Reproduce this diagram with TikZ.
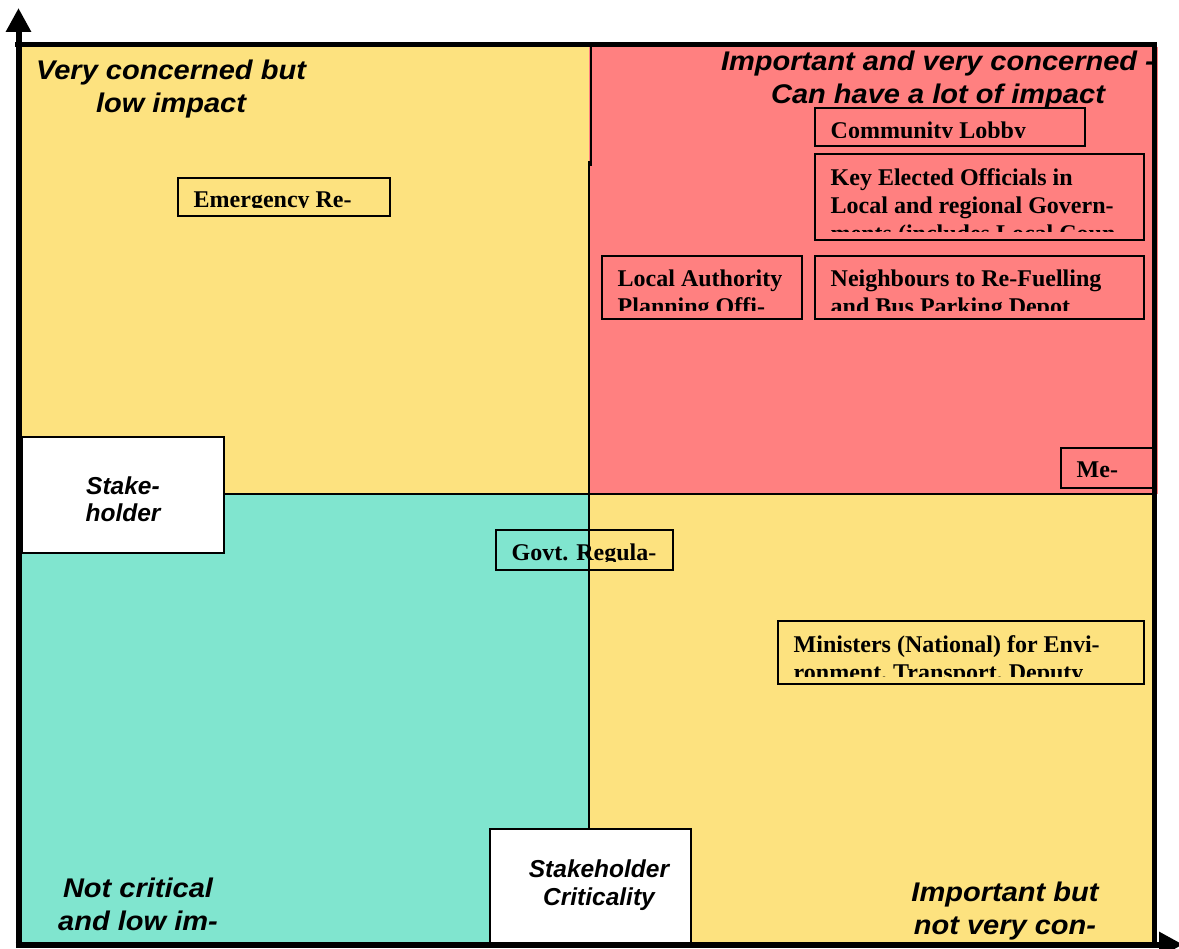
\documentclass[tikz,border=0pt]{standalone}
\usepackage{fontspec}
\setmainfont{Liberation Serif}
\setsansfont{Liberation Sans}
\newfontfamily\qtitlefont[FakeStretch=1.075]{Liberation Sans}
\usetikzlibrary{arrows.meta}
\definecolor{qyellow}{RGB}{253,226,127}
\definecolor{qred}{RGB}{255,128,128}
\definecolor{qteal}{RGB}{128,229,207}

\newcommand\qentry[6]{%
  \node[entrybox, minimum width=#4pt, minimum height=#5pt] (#1) at (#2,#3) {};
  \begin{scope}
    \clip ([xshift=1pt,yshift=-1pt]#1.north west) rectangle ([xshift=-1pt,yshift=8pt]#1.south east);
    \node[entrytext] (#1-text) at ([xshift=15.5pt,yshift=-14pt]#1.north west) {#6};
  \end{scope}}

\begin{document}
\begin{tikzpicture}[x=1pt,y=-1pt,
  qtitle/.style={font=\qtitlefont\bfseries\itshape\fontsize{27}{33}\selectfont, align=center, inner sep=0pt, anchor=north},
  entrybox/.style={draw=black, line width=2pt, anchor=north west, inner sep=0pt, outer sep=0pt},
  entrytext/.style={font=\bfseries\fontsize{24}{28}\selectfont, align=left, inner sep=0pt, anchor=north west},
  whitebox/.style={draw=black, fill=white, line width=2pt, inner sep=0pt, outer sep=0pt, anchor=north west},
  whitetext/.style={font=\sffamily\bfseries\itshape\fontsize{24.5}{27.5}\selectfont, align=center, inner sep=0pt},
  axisline/.style={line width=6pt, -{Triangle[length=24pt,width=24pt]}},
  divider/.style={line width=2pt}]
\useasboundingbox (0,0) rectangle (1179,949);

% quadrants
\fill[qyellow] (21,47) rectangle (589,494.5);
\fill[qred] (589,47) rectangle (1157.5,494.5);
\fill[qteal] (21,494.5) rectangle (589,942);
\fill[qyellow] (589,494.5) rectangle (1155,942);

% dividers
\draw[divider] (590.5,47) -- (590.5,166);
\draw[divider] (588.5,161) -- (588.5,830);
\draw[divider] (224,494.5) -- (1155,494.5);

% stakeholder entries
\qentry{emerg}{178}{178}{212}{38}{Emergency Re-}
\qentry{lobby}{815}{108}{270}{38}{Community Lobby}
\qentry{keyoff}{815}{154}{329}{86}{Key Elected Officials in\\Local and regional Govern-\\ments (includes Local Coun}
\qentry{locauth}{602}{256}{200}{63}{Local Authority\\Planning Offi-}
\qentry{neigh}{815}{256}{329}{63}{Neighbours to Re-Fuelling\\and Bus Parking Depot}
\qentry{media}{1061}{448}{92}{40}{Me-}
\qentry{govt}{496}{530}{177}{40}{Govt. Regula-}
\qentry{minist}{778}{621}{366}{63}{Ministers (National) for Envi-\\ronment, Transport, Deputy}

% quadrant titles
\node[qtitle] (tl-title) at (171,59.5) {Very concerned but\\low impact};
\node[qtitle] (tr-title) at (938,50.5) {Important and very concerned -\\Can have a lot of impact};
\node[qtitle] (bl-title) at (138,878) {Not critical\\and low im-};
\node[qtitle] (br-title) at (1005,882) {Important but\\not very con-};

% axis label boxes
\node[whitebox, minimum width=202pt, minimum height=116pt] (stake) at (22,437) {};
\node[whitetext] (stake-text) at ([yshift=-4pt]stake.center) {Stake-\\holder};
\node[whitebox, minimum width=201pt, minimum height=116pt] (crit) at (489.5,829) {};
\node[whitetext] (crit-text) at ([xshift=9pt,yshift=2pt]crit.center) {Stakeholder\\Criticality};

% frame
\draw[line width=5pt] (15,44.5) -- (1157,44.5);
\draw[line width=5pt] (1154.5,42) -- (1154.5,944);

% axes
\coordinate (ybase) at (18.5,947.5);
\coordinate (ytip) at (18.5,8);
\coordinate (xbase) at (15.5,944.5);
\coordinate (xtip) at (1183,944.5);
\draw[axisline] (ybase) -- (ytip);
\draw[axisline] (xbase) -- (xtip);
\end{tikzpicture}
\end{document}
